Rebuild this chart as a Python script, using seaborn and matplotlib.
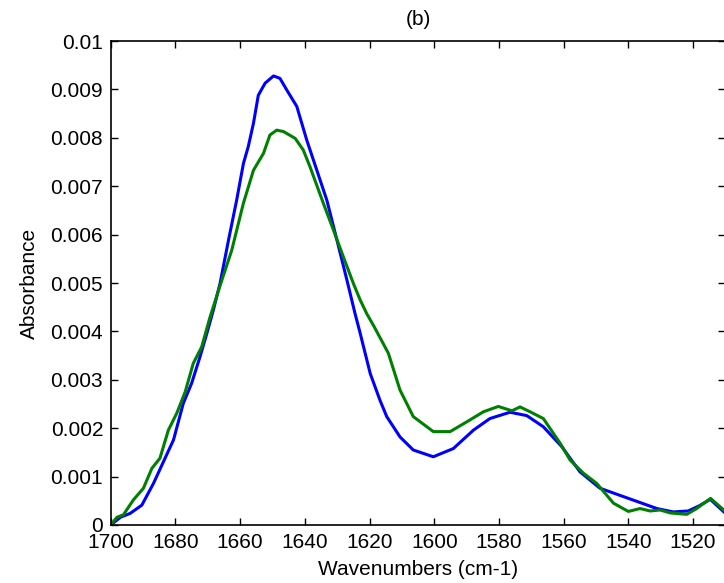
import matplotlib
matplotlib.use("Agg")
import matplotlib.pyplot as plt
import seaborn as sns
import pandas as pd
from matplotlib.ticker import MultipleLocator, FuncFormatter

blue_x = [1700, 1697, 1694, 1690.4, 1686.8, 1683.7, 1680.6, 1677.6, 1675, 1672.4, 1670.3,
          1668.3, 1666.2, 1663.6, 1661.1, 1659, 1657.5, 1655.9, 1654.4, 1652.3, 1649.7,
          1647.7, 1645.6, 1642.5, 1639.4, 1636.3, 1633.2, 1630.1, 1627, 1624.5, 1622.9,
          1619.8, 1616.8, 1614.7, 1610.6, 1606.5, 1600.3, 1594.1, 1587.9, 1582.8, 1576.6,
          1571.4, 1566.3, 1560.6, 1555, 1548.8, 1540, 1531.2, 1526.1, 1521.5, 1518,
          1514.7, 1510]
blue_y = [0, 0.00016, 0.00024, 0.00041, 0.00086, 0.00131, 0.00176, 0.00251, 0.00293, 0.00348,
          0.00396, 0.00444, 0.00500, 0.00589, 0.00671, 0.00747, 0.00782, 0.0083, 0.00888,
          0.00913, 0.00928, 0.00923, 0.00899, 0.00865, 0.00795, 0.00733, 0.00671, 0.00589,
          0.00506, 0.00437, 0.00396, 0.00313, 0.00258, 0.00224, 0.00182, 0.00155, 0.00141,
          0.00158, 0.00196, 0.0022, 0.00233, 0.00226, 0.00203, 0.00162, 0.0011, 0.00076,
          0.00055, 0.00034, 0.00027, 0.00029, 0.0004, 0.00053, 0.00024]

green_x = [1700, 1698.1, 1696.1, 1693, 1689.9, 1687.3, 1684.8, 1682.2, 1679.6, 1677, 1674.5,
           1671.9, 1669.3, 1666.2, 1662.6, 1659, 1655.9, 1652.8, 1650.8, 1648.7, 1646.6,
           1643, 1640.5, 1638.4, 1634.3, 1631.2, 1628.1, 1625, 1622.9, 1620.9, 1618.6,
           1614.2, 1610.6, 1606.5, 1600.3, 1595.1, 1590, 1584.8, 1580.2, 1576, 1573.5,
           1570.4, 1566.3, 1561.1, 1558, 1553.9, 1549.8, 1544.6, 1540, 1536.4, 1533.3,
           1530.2, 1527.1, 1522, 1518.9, 1514.6, 1510]
green_y = [0, 0.00016, 0.00021, 0.00052, 0.00076, 0.00117, 0.00138, 0.00196, 0.00231, 0.00275,
           0.00334, 0.00368, 0.0043, 0.00495, 0.00568, 0.00665, 0.00733, 0.00768, 0.00806,
           0.00816, 0.00813, 0.00799, 0.00775, 0.0074, 0.00665, 0.0061, 0.00554, 0.00499,
           0.00465, 0.00437, 0.0041, 0.00355, 0.00279, 0.00224, 0.00193, 0.00193, 0.00213,
           0.00234, 0.00245, 0.00236, 0.00244, 0.00234, 0.0022, 0.00169, 0.00134, 0.00107,
           0.00086, 0.00045, 0.00028, 0.00034, 0.00029, 0.00031, 0.00025, 0.00022, 0.00034,
           0.00055, 0.00028]

sns.set_style("ticks")
plt.rcParams['font.family'] = ['Liberation Sans', 'DejaVu Sans']
plt.rcParams['text.color'] = 'black'
plt.rcParams['axes.labelcolor'] = 'black'
plt.rcParams['xtick.color'] = 'black'
plt.rcParams['ytick.color'] = 'black'
plt.rcParams['xtick.direction'] = 'in'
plt.rcParams['ytick.direction'] = 'in'

fig = plt.figure(figsize=(7.24, 5.83), dpi=100)
ax = fig.add_axes([0.153, 0.0995, 0.849, 0.830])

df_b = pd.DataFrame({"x": blue_x, "y": blue_y})
df_g = pd.DataFrame({"x": green_x, "y": green_y})
sns.lineplot(data=df_b, x="x", y="y", ax=ax, color=(0, 0, 1), linewidth=2.2,
             estimator=None, sort=True)
sns.lineplot(data=df_g, x="x", y="y", ax=ax, color=(0, 0.5, 0), linewidth=2.2,
             estimator=None, sort=True)

ax.set_xlim(1700, 1510)
ax.set_ylim(0, 0.01)
ax.xaxis.set_major_locator(MultipleLocator(20))
ax.yaxis.set_major_locator(MultipleLocator(0.001))
ax.yaxis.set_major_formatter(FuncFormatter(lambda v, p: "%g" % round(v, 4)))
ax.tick_params(axis='both', which='both', direction='in', top=True, right=True,
               length=5, width=1, labelsize=15, colors='black')
ax.tick_params(axis='x', pad=6)
ax.tick_params(axis='y', pad=5.5)
for s in ax.spines.values():
    s.set_linewidth(1.2)
    s.set_color('black')

ax.set_xlabel("Wavenumbers (cm-1)", fontsize=15, labelpad=5.4, color='black')
ax.set_ylabel("Absorbance", fontsize=15, labelpad=8.3, color='black')
ax.set_title("(b)", fontsize=15, pad=11.6, color='black')

fig.savefig("out.png", dpi=100)
